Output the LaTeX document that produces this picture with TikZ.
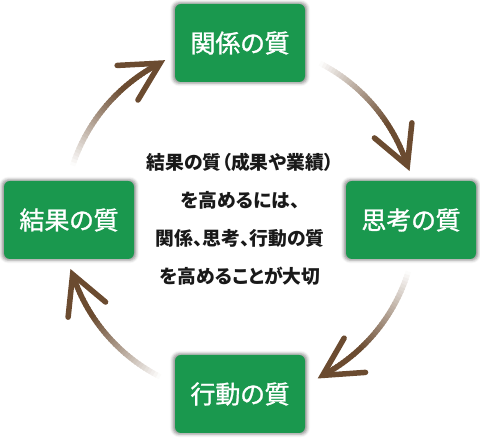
\documentclass[tikz,border=0pt]{standalone}
\usepackage{fontspec}
\newfontfamily\jp[RawFeature=+palt]{Noto Sans CJK JP}
\newfontfamily\jpmed[RawFeature=+palt, FakeBold=1.2]{Noto Sans CJK JP}
\usetikzlibrary{calc,shadows.blur}
\definecolor{boxgreen}{RGB}{26,152,78}
\definecolor{arrowbrown}{RGB}{107,75,48}
\tikzset{
  qbox/.style={rounded corners=6pt, fill=boxgreen, minimum width=130pt, minimum height=78pt,
    text=white, font=\jpmed\fontsize{25}{28}\selectfont, inner sep=0pt,
    blur shadow={shadow xshift=0pt, shadow yshift=0pt, shadow blur radius=3pt, shadow opacity=45, shadow scale=1.03}},
  centertext/.style={align=center, font=\jp\bfseries\fontsize{18.8}{38}\selectfont, text=black!90},
  headline/.style={line width=5.5pt, line cap=round, draw=arrowbrown}
}
\begin{document}
\begin{tikzpicture}[x=1pt,y=1pt]
\useasboundingbox (0,0) rectangle (480,438);
\coordinate (C) at (240,218);
\node[qbox] (top) at (240,395) {関係の質};
\node[qbox] (right) at (411,218) {思考の質};
\node[qbox] (bottom) at (240,44) {行動の質};
\node[qbox] (left) at (69,218) {結果の質};
\node[centertext] (mid) at (240,219) {結果の質（成果や業績）\\を高めるには、\\関係、思考、行動の質\\を高めることが大切};
\foreach \a/\b/\nm in {63/18/tr,-17/-62/rb,243/198/bl,162/117/lt}{
  \coordinate (\nm start) at ($(C)+(\a:176)$);
  \coordinate (\nm tip) at ($(C)+(\b:176)$);
  \foreach \i in {0,...,39}{
    \pgfmathsetmacro\sa{\a+(\b-\a)*\i/40}
    \pgfmathsetmacro\ea{\a+(\b-\a)*min(40,\i+1.3)/40}
    \pgfmathsetmacro\p{min(100,(\i+0.5)/40*150)}
    \draw[line width=5.5pt, draw=arrowbrown!\p!white] ($(C)+(\sa:176)$) arc[start angle=\sa, end angle=\ea, radius=176];
  }
  \draw[headline] ($(\nm tip)+(\b+94+28:43)$) -- (\nm tip) -- ($(\nm tip)+(\b+94-28:43)$);
}
\end{tikzpicture}
\end{document}
